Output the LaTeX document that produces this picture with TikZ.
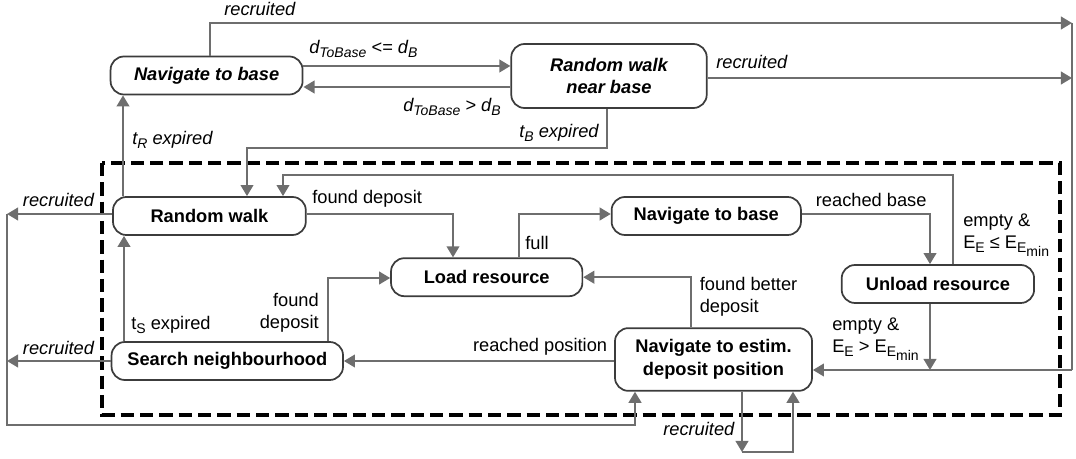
\documentclass[tikz,border=0pt]{standalone}
\usepackage{fontspec}
\setmainfont{Liberation Sans}
\usepackage{tikz}
\usetikzlibrary{arrows.meta,calc}
\usetikzlibrary{positioning}
\usepackage{xcolor}

\definecolor{linegray}{RGB}{110,110,110}
\definecolor{boxgray}{RGB}{60,60,60}
\newcommand{\lowsub}[1]{\raisebox{-3pt}{\fontsize{10.5}{12}\selectfont #1}}

\begin{document}
\begin{tikzpicture}[x=0.75pt,y=-0.75pt,
  font=\fontsize{13.7}{16.5}\selectfont,
  state/.style={draw=boxgray,line width=1.3pt,rounded corners=10pt,align=center,inner sep=0pt,
    font=\fontsize{13.7}{17}\selectfont\bfseries},
  outer/.style={state,font=\fontsize{13.7}{17}\selectfont\bfseries\itshape},
  conn/.style={draw=linegray,line width=1.5pt,-{Triangle[length=8.3pt,width=9.5pt]}},
  wire/.style={draw=linegray,line width=1.5pt},
  lbl/.style={inner sep=0pt}]

\useasboundingbox (0,0) rectangle (1076,459);

% grupo interno (tracejado)
\draw[black,line width=2.4pt,dash pattern=on 10pt off 4.5pt] (102,163) rectangle (1060,415);

% estados externos
\node[outer,minimum width=144pt,minimum height=28.5pt] (navTop) at (206.6,75.5) {Navigate to base};
\node[outer,minimum width=146.6pt,minimum height=48pt] (walkBase) at (609,76) {Random walk\\near base};

% estados internos
\node[state,minimum width=144.6pt,minimum height=28.5pt] (walk) at (209.4,216) {Random walk};
\node[state,minimum width=173.6pt,minimum height=28.5pt] (search) at (227.3,361) {Search neighbourhood};
\node[state,minimum width=143.5pt,minimum height=28.5pt] (load) at (486.7,277.2) {Load resource};
\node[state,minimum width=142pt,minimum height=28.5pt] (navBase) at (706.3,216) {Navigate to base};
\node[state,minimum width=144.3pt,minimum height=28.5pt] (unload) at (937.9,284) {Unload resource};
\node[state,minimum width=147.8pt,minimum height=47pt] (navDep) at (713.5,359.5) {Navigate to estim.\\deposit position};

% pontos dos barramentos
\coordinate (busTop) at (1072,23);
\coordinate (busMid) at (1072,78);
\coordinate (busBot) at (1072,370);
\coordinate (busLeft) at (7,214);
\coordinate (loopEnd) at (742,452);

% transicoes externas
\draw[conn] (navTop.north -| 210,0) |- (busTop);
\draw[conn] (navTop.east |- 0,66) -- (walkBase.west |- 0,66);
\draw[conn] (walkBase.west |- 0,87) -- (navTop.east |- 0,87);
\draw[conn] (walkBase.east |- busMid) -- (busMid);
\draw[conn] (walkBase.south -| 606.7,0) |- (247,148) -- (walk.north -| 247,0);
\draw[conn] (walk.north -| 123,0) -- (navTop.south -| 123,0);
\draw[wire] (busTop) -- (busBot);
\draw[conn] (busBot) -- (navDep.east |- busBot);

% transicoes internas
\draw[conn] (walk.east |- 0,214) -| (load.north -| 453,0);
\draw[conn] (load.north -| 518.5,0) |- (navBase.west |- 0,214);
\draw[conn] (navBase.east |- 0,214) -| (unload.north -| 930,0);
\draw[conn] (unload.north -| 953,0) |- (283,175) -- (walk.north -| 283,0);
\draw[conn] (unload.south -| 930,0) -- (busBot -| 930,0);
\draw[conn] (navDep.north -| 691,0) |- (load.east);
\draw[conn] (navDep.west |- search.east) -- (search.east);
\draw[conn] (search.north -| 124,0) -- (walk.south -| 124,0);
\draw[conn] (search.north -| 327.5,0) |- (load.west |- 0,278);

% recrutamento
\draw[conn] (walk.west |- busLeft) -- (busLeft);
\draw[conn] (search.west) -- (search.west -| busLeft);
\draw[conn] (busLeft) |- (635,425) -- (navDep.south -| 635,0);
\draw[conn] (navDep.south -| 742,0) -- (loopEnd);
\draw[conn] (loopEnd) -| (navDep.south -| 793,0);

% rotulos
\node[lbl,anchor=west] (lRecTop) at (224,9) {\textit{recruited}};
\node[lbl,anchor=west] (lNear) at (309,49) {\textit{d\lowsub{ToBase} <= d\lowsub{B}}};
\node[lbl,anchor=west] (lFar) at (403,107) {\textit{d\lowsub{ToBase} > d\lowsub{B}}};
\node[lbl,anchor=west] (lRecBase) at (716,62) {\textit{recruited}};
\node[lbl,anchor=west] (lTB) at (519,133) {\textit{t\lowsub{B} expired}};
\node[lbl,anchor=west] (lTR) at (132,140) {\textit{t\lowsub{R} expired}};
\node[lbl,anchor=west] (lRecWalk) at (22.7,200) {\textit{recruited}};
\node[lbl,anchor=west] (lRecSearch) at (22.7,348) {\textit{recruited}};
\node[lbl,anchor=west] (lFound) at (312,199) {found deposit};
\node[lbl,anchor=west] (lFull) at (525,243) {full};
\node[lbl,anchor=west] (lReached) at (815.6,200) {reached base};
\node[lbl,anchor=west,align=left] (lEmptyLow) at (963,235) {empty \&\\E\lowsub{E} ≤ E\lowsub{E\lowsub{min}}};
\node[lbl,anchor=west,align=left] (lEmptyHigh) at (832,339) {empty \&\\E\lowsub{E} > E\lowsub{E\lowsub{min}}};
\node[lbl,anchor=west] (lTS) at (131,325) {t\lowsub{S} expired};
\node[lbl,anchor=east,align=right] (lFoundSearch) at (319,313) {found\\deposit};
\node[lbl,anchor=west,align=left] (lBetter) at (699.5,297) {found better\\deposit};
\node[lbl,anchor=east] (lPosition) at (607.4,347) {reached position};
\node[lbl,anchor=west] (lRecLoop) at (663,429) {\textit{recruited}};

\end{tikzpicture}
\end{document}
